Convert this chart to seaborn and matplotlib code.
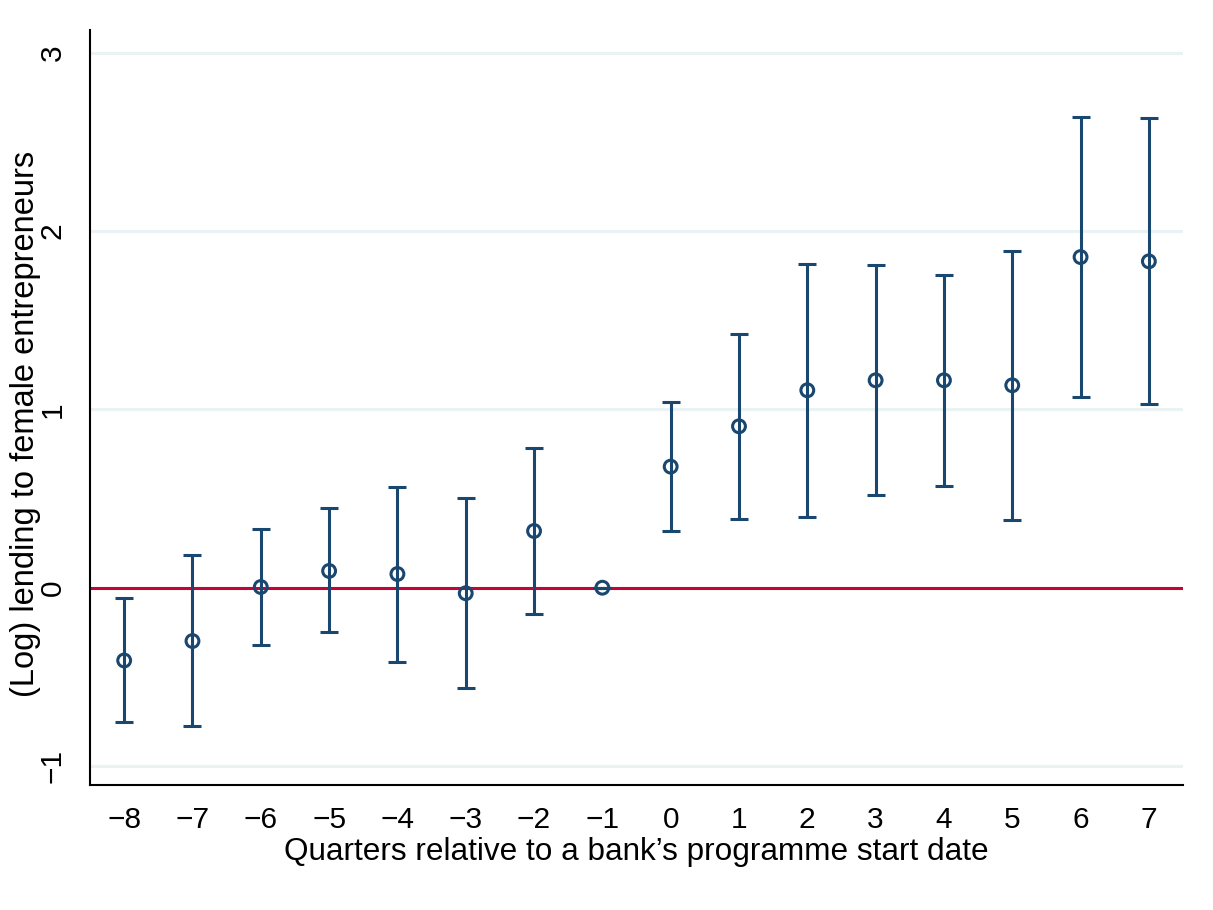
import matplotlib
matplotlib.use("Agg")
import matplotlib.pyplot as plt
import seaborn as sns
import pandas as pd

# Event-study coefficients with 95% confidence bounds
quarters = [-8, -7, -6, -5, -4, -3, -2, -1, 0, 1, 2, 3, 4, 5, 6, 7]
coef = [-0.408, -0.299, 0.004, 0.094, 0.077, -0.031, 0.318, 0.0,
        0.679, 0.905, 1.107, 1.163, 1.163, 1.135, 1.854, 1.830]
ci_low = [-0.753, -0.776, -0.320, -0.250, -0.415, -0.561, -0.146, 0.0,
          0.318, 0.387, 0.398, 0.518, 0.570, 0.381, 1.069, 1.028]
ci_high = [-0.058, 0.183, 0.330, 0.447, 0.563, 0.501, 0.782, 0.0,
           1.041, 1.422, 1.814, 1.810, 1.753, 1.886, 2.638, 2.632]
yticks = [-1, 0, 1, 2, 3]

df = pd.DataFrame({"q": quarters, "b": coef, "lo": ci_low, "hi": ci_high})

navy = "#1a476f"
red = "#c10534"
grid = "#eaf2f3"

sns.set_style("white")
plt.rcParams["font.family"] = ["Liberation Sans", "DejaVu Sans"]
plt.rcParams["text.color"] = "black"
plt.rcParams["axes.labelcolor"] = "black"

fig = plt.figure(figsize=(12.13, 9.10), dpi=100)
ax = fig.add_axes([0.0742, 0.1374, 0.9011, 0.8296])

for y in yticks:
    ax.axhline(y, color=grid, lw=2.2, zorder=0)
ax.axhline(0, color=red, lw=2.2, zorder=1)

ax.errorbar(df["q"], df["b"],
            yerr=[df["b"] - df["lo"], df["hi"] - df["b"]],
            fmt="none", ecolor=navy, elinewidth=2.2, capsize=6.5, capthick=2.2,
            zorder=2)
sns.scatterplot(data=df, x="q", y="b", ax=ax, marker="o", s=85,
                facecolor="none", edgecolor=navy, linewidth=2.2, zorder=3)

ax.set_xlim(-8.5, 7.5)
ax.set_ylim(-1.106, 3.127)
ax.set_xticks(quarters)
ax.set_xticklabels([str(q).replace("-", "\u2212") for q in quarters])
ax.set_yticks(yticks)
ax.set_yticklabels([str(v).replace("-", "\u2212") for v in yticks],
                   rotation=90, va="center")

for s in ["top", "right"]:
    ax.spines[s].set_visible(False)
for s in ["left", "bottom"]:
    ax.spines[s].set_color("black")
    ax.spines[s].set_linewidth(1.5)

ax.tick_params(axis="both", direction="out", length=9, width=1.2,
               colors="black", labelcolor="black", labelsize=21.5, pad=6)
ax.tick_params(axis="y", pad=8)
ax.set_xlabel("Quarters relative to a bank\u2019s programme start date",
              fontsize=22.7, labelpad=2)
ax.set_ylabel("(Log) lending to female entrepreneurs", fontsize=23.5)
ax.yaxis.set_label_coords(-0.0448, 0.478)

fig.savefig("out.png", dpi=100, facecolor="white")
